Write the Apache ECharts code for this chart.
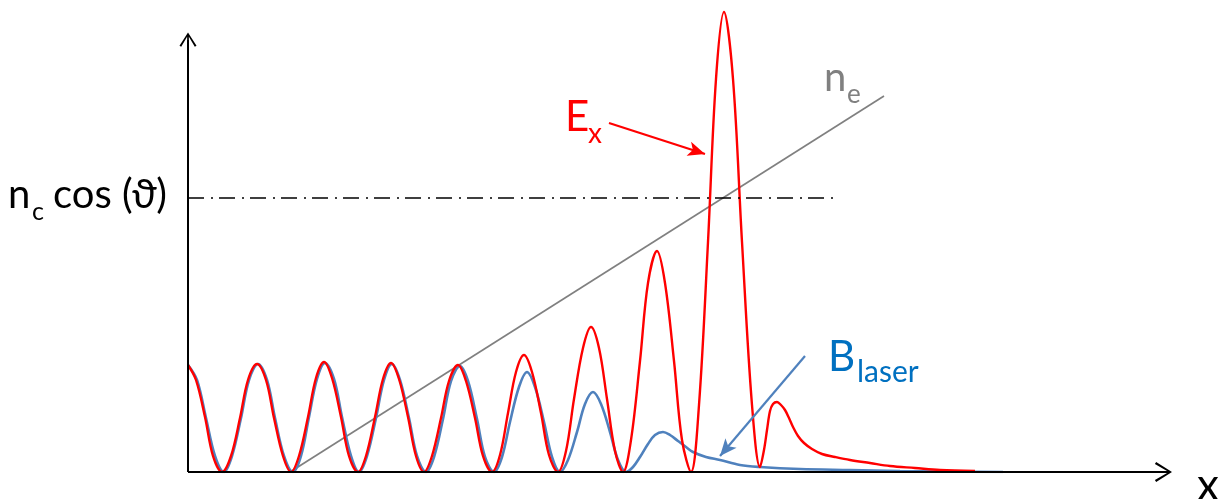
<!DOCTYPE html>
<html><head><meta charset="utf-8">
<script src="https://cdn.jsdelivr.net/npm/echarts@6/dist/echarts.min.js"></script>
<style>html,body{margin:0;padding:0;background:#fff}#c{width:1223px;height:499px}</style>
</head><body><div id="c"></div>
<script>
// E_x curve (red)
const exX = [0,8,17,25,34, 43,52,60,69,78,86,95,103, 111,120,128,136,144,153,161,170, 178,187,195,203,211,220,228,236, 244,253,261,270,278,287,295,304, 312,320,328,336,344,353,361,370, 378,386,395,403,411,419,427,435, 443,452,460,469,477,486,494,503, 511,520,528,536,545,554,564,572, 576,579,582,585,589,593,597,601,605,610,616,624,634,647,662,682,702,727,752,787];
const exY = [107,92,55,16,0, 16,54,92,108,92,54,16,0, 16,55,94,110,94,55,16,0, 16,55,93,109,93,55,16,0, 16,54,91,107,91,54,16,0, 17,59,100,117,100,59,17,0, 21,73,124,145,124,73,21,0, 32,111,189,221,189,111,32,0, 67,230,393,460,393,230,67,5, 22,42,61,68,70,67,62,54,45,36,29,23,18,15,12,9,6,4,2,1];
// B_laser curve (blue)
const bX = [0,9,18,27,36, 44,53,61,70,79,87,96,105, 113,121,129,137,146,154,163,171, 179,188,196,204,212,221,229,238, 246,255,263,272,280,289,297,306, 314,322,331,339,347,356,364,372, 380,389,397,405,413,422,430,438, 445,452,460,467,475,482,490,498,505,518,532,552,572,612,662,712,815];
const bY = [107,92,54,16,0, 16,54,92,108,92,54,16,0, 16,55,93,109,93,55,16,0, 16,54,92,108,92,54,16,0, 15,53,91,106,91,53,15,0, 15,50,85,100,85,50,15,0, 12,40,68,80,68,40,12,0, 5,15,28,37,40,37,31,25,20,15,12,7,5,3,2,1,0];
// n_e density line (gray)
const neX = [102, 696];
const neY = [0, 376];
// reference level n_c cos(theta)
const ncLevel = 274;
const ncLineEnd = 650;
// axis extents
const xMax = 984, yMax = 462;
const yAxisEnd = 432, xAxisEnd = 975;
// annotation arrows
const exArrow = [[421, 349], [517, 318]];
const bArrow = [[617, 116], [532, 16]];

const zip = (xs, ys) => xs.map((x, i) => [x, ys[i]]);
const chevron = 'path://M50,0 L100,88 L90,95 L50,18 L10,95 L0,88 Z M45,10 L55,10 L55,100 L45,100 Z';

const chart = echarts.init(document.getElementById('c'), null, {renderer: 'canvas'});
const F = 'Lato, "Open Sans", sans-serif';
chart.setOption({
  animation: false,
  backgroundColor: '#fff',
  grid: {left: 188, right: 51, top: 10, bottom: 27},
  xAxis: {type: 'value', min: 0, max: xMax, show: false},
  yAxis: {type: 'value', min: 0, max: yMax, show: false},
  series: [
    {
      name: 'axes', type: 'line', data: [[0, 0]], showSymbol: false, z: 1,
      lineStyle: {width: 0},
      markLine: {
        silent: true, animation: false, label: {show: false},
        data: [
          [{coord: [0, 0], symbol: 'none', lineStyle: {color: '#000', width: 2, type: 'solid'}},
           {coord: [0, yAxisEnd], symbol: chevron, symbolSize: [17, 15]}],
          [{coord: [0, 0], symbol: 'none', lineStyle: {color: '#000', width: 2, type: 'solid'}},
           {coord: [xAxisEnd, 0], symbol: chevron, symbolSize: [20, 18]}],
          [{coord: [0, ncLevel], symbol: 'none', lineStyle: {color: '#000', width: 1.5, type: [16, 7, 2, 6]}},
           {coord: [ncLineEnd, ncLevel], symbol: 'none'}]
        ]
      }
    },
    {
      name: 'n_e', type: 'line', data: zip(neX, neY), showSymbol: false, z: 2,
      lineStyle: {color: '#808080', width: 1.7}
    },
    {
      name: 'B_laser', type: 'line', data: zip(bX, bY), showSymbol: false, smooth: 0.35, z: 3,
      lineStyle: {color: '#4F81BD', width: 2.6}
    },
    {
      name: 'E_x', type: 'line', data: zip(exX, exY), showSymbol: false, smooth: 0.35, z: 4,
      lineStyle: {color: '#FF0000', width: 2.4}
    },
    {
      name: 'arrows', type: 'line', data: [[0, 0]], showSymbol: false, z: 5,
      lineStyle: {width: 0},
      markLine: {
        silent: true, animation: false, label: {show: false},
        data: [
          [{coord: exArrow[0], symbol: 'none', lineStyle: {color: '#FF0000', width: 2.2, type: 'solid'}},
           {coord: exArrow[1], symbol: 'arrow', symbolSize: [11, 17]}],
          [{coord: bArrow[0], symbol: 'none', lineStyle: {color: '#4F81BD', width: 2.2, type: 'solid'}},
           {coord: bArrow[1], symbol: 'arrow', symbolSize: [11, 17]}]
        ]
      }
    }
  ],
  graphic: [
    {type: 'text', left: 8, top: 175, style: {text: 'n', font: '40px ' + F, fill: '#000'}},
    {type: 'text', left: 32, top: 199, style: {text: 'c', font: '25px ' + F, fill: '#000'}},
    {type: 'text', left: 53, top: 175, style: {text: 'cos (ϑ)', font: '40px ' + F, fill: '#000'}},
    {type: 'text', left: 565, top: 96, style: {text: 'E', font: '42px ' + F, fill: '#FF0000'}},
    {type: 'text', left: 588, top: 120, style: {text: 'x', font: '28px ' + F, fill: '#FF0000'}},
    {type: 'text', left: 824, top: 58, style: {text: 'n', font: '40px ' + F, fill: '#808080'}},
    {type: 'text', left: 847, top: 82, style: {text: 'e', font: '26px ' + F, fill: '#808080'}},
    {type: 'text', left: 828, top: 336, style: {text: 'B', font: '42px ' + F, fill: '#0070C0'}},
    {type: 'text', left: 857, top: 357, style: {text: 'laser', font: '30px ' + F, fill: '#0070C0'}},
    {type: 'text', left: 1197, top: 464, style: {text: 'x', font: '44px ' + F, fill: '#000'}}
  ]
});
</script></body></html>
